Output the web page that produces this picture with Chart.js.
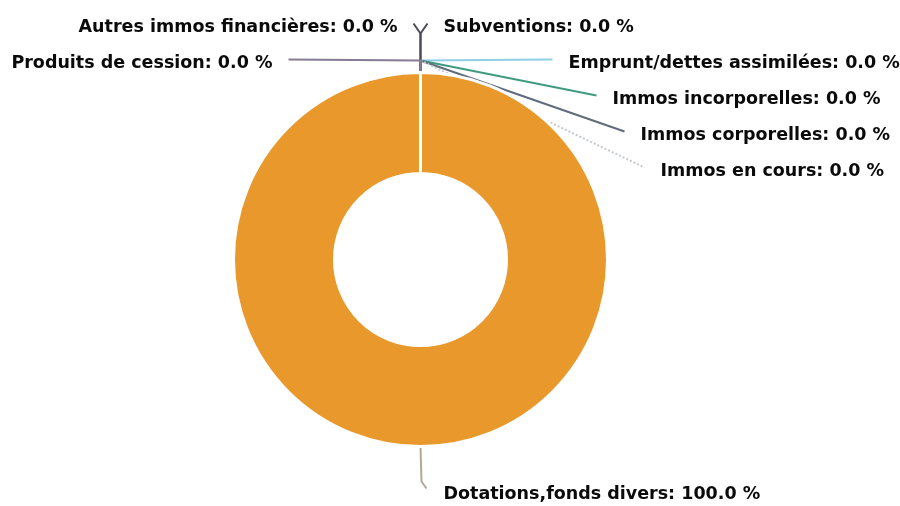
<!DOCTYPE html>
<html lang="fr">
<head>
<meta charset="utf-8">
<title>Répartition des ressources</title>
<script src="https://cdn.jsdelivr.net/npm/chart.js@4.4.1/dist/chart.umd.min.js"></script>
<style>
  html, body { margin: 0; padding: 0; background: #fff; }
  #wrap { width: 900px; height: 506px; position: relative; }
</style>
</head>
<body>
<div id="wrap"><canvas id="ressourcesChart"></canvas></div>
<script>
// Ressources par poste (montants relatifs)
const categories = [
  'Subventions',
  'Emprunt/dettes assimilées',
  'Immos incorporelles',
  'Immos corporelles',
  'Immos en cours',
  'Dotations,fonds divers',
  'Produits de cession',
  'Autres immos financières'
];
const amounts = [0, 0, 0, 0, 0, 100, 0, 0];

const sliceColors = ['#7b3f9e', '#8ecfe6', '#3f9a80', '#5f6c7c', '#c4c8d0', '#e9982b', '#857b95', '#4d4a55'];
const leaderColors = ['#4d4a55', '#8ecfe6', '#3f9a80', '#5f6c7c', '#c4c8d0', '#b0a898', '#857b95', '#4d4a55'];

// horizontal gap between the chart axis and each label row, from the top row down
const labelIndent = [23, 148, 192, 220, 240];
const rowStep = 36;
const labelFont = 'bold 17.5px "DejaVu Sans"';

function percentText(i) {
  const total = amounts.reduce((s, v) => s + v, 0);
  return categories[i] + ': ' + (amounts[i] / total * 100).toFixed(1) + ' %';
}

// Work out where each label and its leader line go
function layoutLabels(chart) {
  const meta = chart.getDatasetMeta(0);
  const right = [], left = [];
  const items = [];

  meta.data.forEach((arc, i) => {
    const p = arc.getProps(['x', 'y', 'startAngle', 'endAngle', 'outerRadius']);
    if (p.endAngle - p.startAngle > 0.01) {
      // real slice: label beyond its middle (here it points straight down)
      const a = (p.startAngle + p.endAngle) / 2;
      const ex = p.x + Math.cos(a) * p.outerRadius;
      const ey = p.y + Math.sin(a) * p.outerRadius;
      items.push({
        i, text: percentText(i), align: 'left',
        x: p.x + labelIndent[0], y: ey + 48,
        points: [[ex, ey], [ex + 1, ey + 35], [ex + 6, ey + 42]]
      });
    } else if (p.startAngle < Math.PI / 2) {
      right.push({ i, p });
    } else {
      left.push({ i, p });
    }
  });
  left.reverse();

  [[right, 1], [left, -1]].forEach(([list, dir]) => {
    list.forEach((s, row) => {
      const { x: cx, y: cy, outerRadius: r } = s.p;
      const top = cy - r;
      const y = top - 45 + row * rowStep;
      const x = cx + dir * labelIndent[row];
      let points;
      if (row === 0) {
        points = [[cx, top], [cx, y + 6], [cx + dir * 7, y - 4]];
      } else {
        points = [[cx, top], [cx, top - 12], [cx + dir * (labelIndent[row] - 16), y - 4]];
      }
      items.push({ i: s.i, text: percentText(s.i), align: dir > 0 ? 'left' : 'right', x, y, points });
    });
  });
  return items;
}

const outerLabels = {
  id: 'outerLabels',
  beforeDatasetsDraw(chart) {
    const ctx = chart.ctx;
    ctx.save();
    ctx.lineWidth = 2;
    ctx.lineJoin = 'round';
    layoutLabels(chart).forEach(item => {
      ctx.strokeStyle = leaderColors[item.i];
      ctx.setLineDash(categories[item.i] === 'Immos en cours' ? [2, 2] : []);
      ctx.beginPath();
      item.points.forEach(([x, y], k) => k ? ctx.lineTo(x, y) : ctx.moveTo(x, y));
      ctx.stroke();
    });
    ctx.restore();
  },
  afterDatasetsDraw(chart) {
    const ctx = chart.ctx;
    ctx.save();
    ctx.font = labelFont;
    ctx.fillStyle = '#0a0a0a';
    ctx.textBaseline = 'middle';
    layoutLabels(chart).forEach(item => {
      ctx.textAlign = item.align;
      ctx.fillText(item.text, item.x, item.y);
    });
    ctx.restore();
  }
};

const ctx = document.getElementById('ressourcesChart').getContext('2d');
const ressourcesChart = new Chart(ctx, {
  type: 'doughnut',
  data: {
    labels: categories,
    datasets: [{
      data: amounts,
      backgroundColor: sliceColors,
      borderColor: '#ffffff',
      borderWidth: 3
    }]
  },
  options: {
    responsive: true,
    maintainAspectRatio: false,
    animation: false,
    cutout: '46%',
    layout: { padding: { left: 232, right: 291, top: 71, bottom: 58 } },
    plugins: {
      legend: { display: false },
      tooltip: { enabled: false }
    }
  },
  plugins: [outerLabels]
});
</script>
</body>
</html>
